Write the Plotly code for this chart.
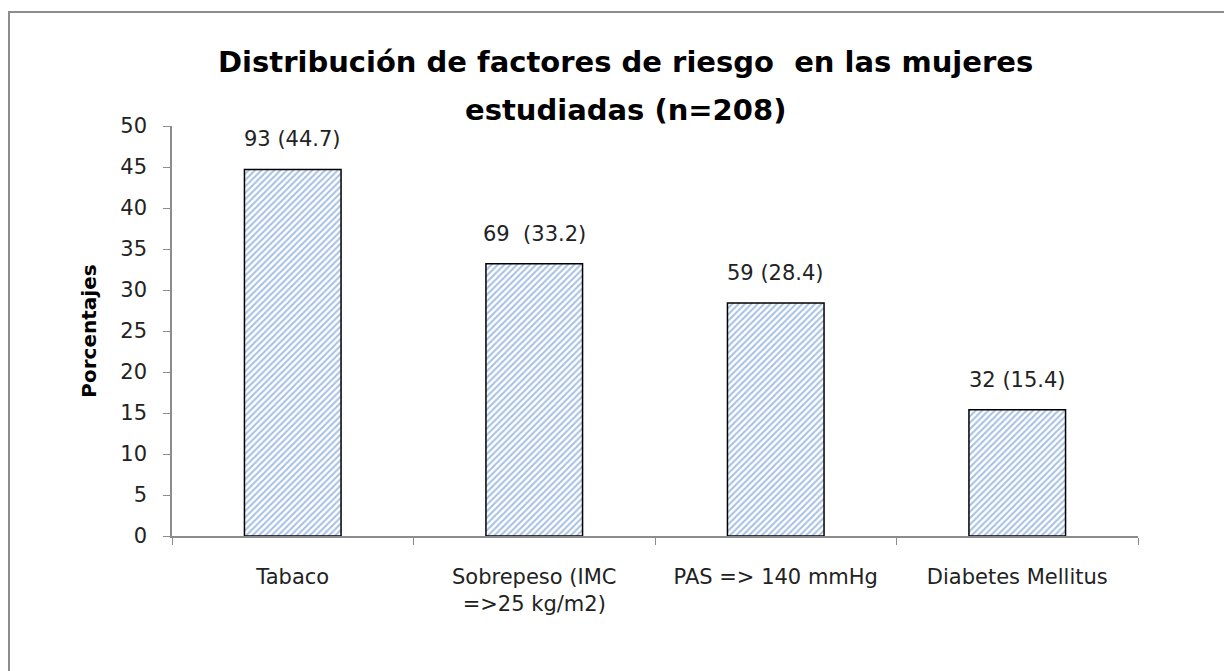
import plotly.graph_objects as go

categories = ["Tabaco", "Sobrepeso (IMC<br>=>25 kg/m2)", "PAS => 140 mmHg", "Diabetes Mellitus"]
percentages = [44.7, 33.2, 28.4, 15.4]
counts = [93, 69, 59, 32]
bar_labels = ["93 (44.7)", "69  (33.2)", "59 (28.4)", "32 (15.4)"]
title_lines = ["Distribución de factores de riesgo  en las mujeres", "estudiadas (n=208)"]
y_ticks = [0, 5, 10, 15, 20, 25, 30, 35, 40, 45, 50]

FONT = "DejaVu Sans"
OFF = 8  # page body margin
L, T, R, B = 172 - OFF, 126 - OFF, 1232 - 1138 + OFF, 671 - 536 + OFF
PW = 1232 - L - R
PH = 671 - T - B


def py(screen_y):
    """paper y from screen pixel y"""
    return (PH + T - (screen_y - OFF)) / PH


def px(screen_x):
    return (screen_x - OFF - L) / PW


fig = go.Figure()
fig.add_trace(go.Bar(
    x=categories,
    y=percentages,
    width=0.4,
    marker=dict(
        color="white",
        line=dict(color="black", width=1.5),
        pattern=dict(shape="/", fgcolor="#4a7fcc", bgcolor="white", size=4.5, solidity=0.45),
    ),
    showlegend=False,
    hoverinfo="skip",
))

for cat, val, lab in zip(categories, percentages, bar_labels):
    fig.add_annotation(x=cat, y=val, text=lab, showarrow=False, yanchor="bottom",
                       yshift=16, font=dict(family=FONT, size=21, color="#222"))

for line, sy in zip(title_lines, [62, 110]):
    fig.add_annotation(xref="paper", yref="paper", x=px(625), y=py(sy), text="<b>" + line + "</b>",
                       showarrow=False, xanchor="center", yanchor="middle",
                       font=dict(family=FONT, size=29, color="black"))

fig.add_shape(type="rect", xref="paper", yref="paper",
              x0=px(9), x1=1.4, y0=-0.6, y1=py(12),
              line=dict(color="#8c8c8c", width=2), fillcolor="rgba(0,0,0,0)", layer="below")

fig.update_layout(
    width=1232, height=671,
    margin=dict(l=L, r=R, t=T, b=B),
    paper_bgcolor="white", plot_bgcolor="white",
    font=dict(family=FONT, color="#222"),
)
fig.update_xaxes(
    range=[-0.5, 3.5], showline=True, linecolor="#8c8c8c", linewidth=1.5,
    ticks="outside", tickson="boundaries", ticklen=7, tickcolor="#8c8c8c",
    ticklabelstandoff=21,
    tickfont=dict(family=FONT, size=21, color="#222"), showgrid=False,
)
fig.update_yaxes(
    range=[0, 50], tickvals=y_ticks, showline=True, linecolor="#8c8c8c", linewidth=1.5,
    ticks="outside", ticklen=7, tickcolor="#8c8c8c", showgrid=False, zeroline=False,
    ticklabelstandoff=12,
    tickfont=dict(family=FONT, size=21, color="#222"),
    title=dict(text="<b>Porcentajes</b>", font=dict(family=FONT, size=20, color="black"), standoff=18),
)

fig.write_html("out.html")
